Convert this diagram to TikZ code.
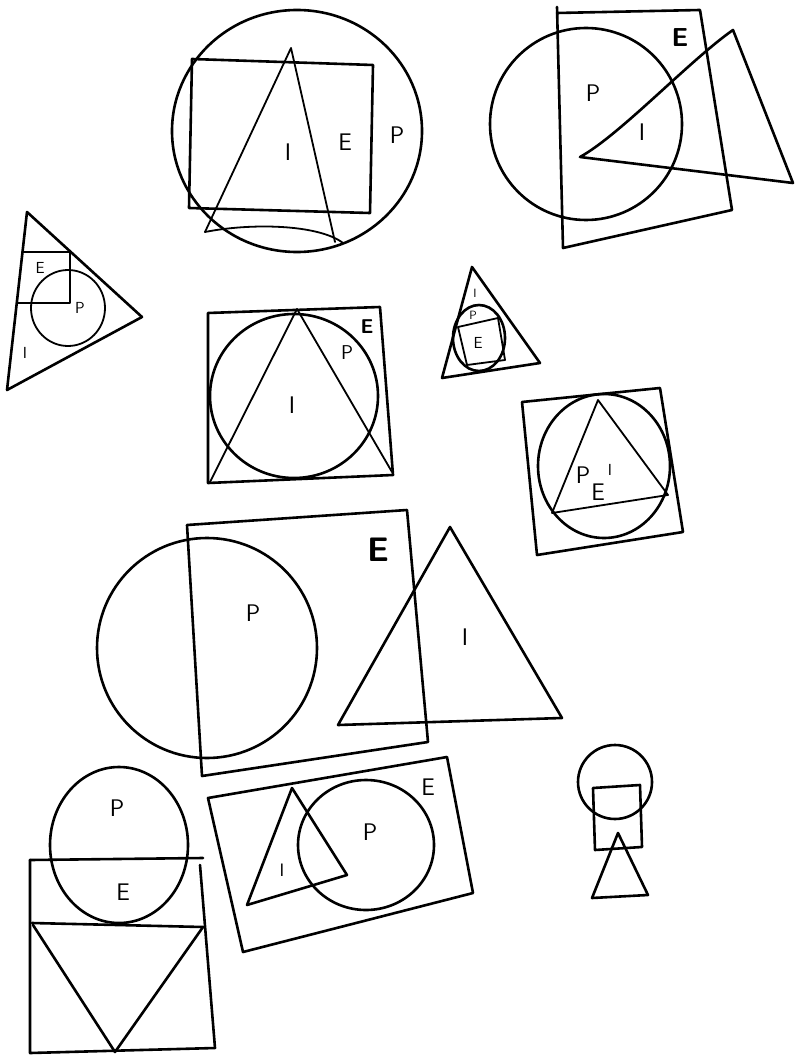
\documentclass[tikz,border=0pt]{standalone}
\usepackage{fontspec}
\usepackage{tikz}

\begin{document}
\begin{tikzpicture}[x=1pt,y=1pt,yscale=-1,xscale=1,
  sk/.style={line width=2.6pt, line join=round, line cap=round},
  thinsk/.style={line width=1.8pt, line join=round, line cap=round},
  lbl/.style={inner sep=0.75pt, font=\fontsize{24}{24}\selectfont\sffamily},
  biglbl/.style={inner sep=0.75pt, font=\fontsize{34}{34}\selectfont\sffamily\bfseries},
  smalllbl/.style={inner sep=0.5pt, font=\fontsize{12}{12}\selectfont\sffamily}]
\useasboundingbox (0,0) rectangle (801,1056);

%Shape: Circle, top middle
\draw [sk] (297,131) ellipse [x radius=125, y radius=121];
%Shape: Square
\draw [sk] (192,59) -- (373,65) -- (370,213) -- (189,208) -- cycle;
%Shape: Triangle
\draw [thinsk] (205,232) -- (291,48) -- (335,242);
\draw [thinsk] (205,232) .. controls (250,223) and (318,224) .. (343,243);
% Text Node
\draw (288,152) node [lbl] (i1) {I};
\draw (345,142) node [lbl] (e1) {E};
\draw (397,135) node [lbl] (p1) {P};

%Shape: Rectangle, top right
\draw [sk] (557,7) -- (563,248) -- (732,210) -- (700,10) -- (557,13);
%Shape: Circle
\draw [sk] (586,124) ellipse [x radius=96, y radius=96];
%Shape: Triangle
\draw [sk] (580,157) .. controls (620,135) and (690,60) .. (733,30) -- (793,183) -- cycle;
% Text Node
\draw (680,38) node [biglbl,font=\fontsize{26}{26}\selectfont\sffamily\bfseries] (e2) {E};
\draw (593,93) node [lbl] (p2) {P};
\draw (642,132) node [lbl] (i2) {I};

%Shape: Triangle, left
\draw [sk] (27,212) -- (142,317) -- (7,390) -- cycle;
%Shape: Square
\draw [thinsk] (22,252) -- (70,252) -- (70,303) -- (17,303);
%Shape: Circle
\draw [thinsk] (68,308) ellipse [x radius=37, y radius=38];
% Text Node
\draw (40,268) node [smalllbl,font=\fontsize{16}{16}\selectfont\sffamily] (e3) {E};
\draw (80,308) node [smalllbl,font=\fontsize{16}{16}\selectfont\sffamily] (p3) {P};
\draw (25,353) node [smalllbl,font=\fontsize{16}{16}\selectfont\sffamily] (i3) {I};

%Shape: Triangle, small
\draw [sk] (472,267) -- (540,363) -- (442,378) -- cycle;
%Shape: Circle
\draw [sk] (479,338) ellipse [x radius=26, y radius=33];
%Shape: Square
\draw [thinsk] (458,327) -- (498,318) -- (505,360) -- (467,365) -- cycle;
% Text Node
\draw (475,293) node [smalllbl] (i4) {I};
\draw (473,315) node [smalllbl] (p4) {P};
\draw (478,343) node [smalllbl,font=\fontsize{16}{16}\selectfont\sffamily] (e4) {E};

%Shape: Square, middle right
\draw [sk] (522,402) -- (660,388) -- (683,532) -- (537,555) -- cycle;
%Shape: Circle
\draw [sk] (604,466) ellipse [x radius=66, y radius=72];
%Shape: Triangle
\draw [thinsk] (598,400) -- (668,495) -- (552,513) -- cycle;
% Text Node
\draw (583,475) node [lbl] (p5) {P};
\draw (598,492) node [lbl] (e5) {E};
\draw (610,470) node [smalllbl,font=\fontsize{16}{16}\selectfont\sffamily] (i5) {I};

%Shape: Square, middle
\draw [sk] (208,313) -- (380,307) -- (393,475) -- (208,483) -- cycle;
%Shape: Circle
\draw [sk] (294,396) ellipse [x radius=84, y radius=82];
%Shape: Triangle
\draw [thinsk] (297,309) -- (392,472);
\draw [thinsk] (297,309) -- (210,482);
% Text Node
\draw (292,405) node [lbl] (i6) {I};
\draw (347,353) node [lbl,font=\fontsize{20}{20}\selectfont\sffamily] (p6) {P};
\draw (367,327) node [lbl,font=\fontsize{20}{20}\selectfont\sffamily\bfseries] (e6) {E};

%Shape: Rectangle, big
\draw [sk] (187,525) -- (407,510) -- (428,742) -- (202,776) -- cycle;
%Shape: Circle
\draw [sk] (207,648) ellipse [x radius=110, y radius=110];
%Shape: Triangle
\draw [sk] (450,527) -- (562,718) -- (338,725) -- cycle;
% Text Node
\draw (378,550) node [biglbl] (e7) {E};
\draw (253,613) node [lbl] (p7) {P};
\draw (465,637) node [lbl] (i7) {I};

%Shape: Circle, bottom left
\draw [sk] (119,845) ellipse [x radius=69, y radius=78];
%Shape: Rectangle
\draw [sk] (30,860) -- (203,858);
\draw [sk] (30,860) -- (30,1053) -- (215,1048) -- (200,865);
\draw [sk] (32,923) -- (203,927);
%Shape: Triangle
\draw [sk] (33,925) -- (115,1052) -- (203,927);
% Text Node
\draw (117,808) node [lbl] (p8) {P};
\draw (123,892) node [lbl] (e8) {E};

%Shape: Rectangle, bottom middle
\draw [sk] (208,798) -- (447,757) -- (473,893) -- (243,952) -- cycle;
%Shape: Triangle
\draw [sk] (292,788) -- (347,875) -- (247,905) -- cycle;
%Shape: Circle
\draw [sk] (366,845) ellipse [x radius=68, y radius=65];
% Text Node
\draw (428,787) node [lbl] (e9) {E};
\draw (370,832) node [lbl] (p9) {P};
\draw (282,870) node [lbl,font=\fontsize{18}{18}\selectfont\sffamily] (i9) {I};

%Shape: Circle, figure
\draw [sk] (615,782) ellipse [x radius=37, y radius=37];
%Shape: Square
\draw [sk] (593,788) -- (640,785) -- (642,847) -- (595,850) -- cycle;
%Shape: Triangle
\draw [sk] (618,833) -- (648,895) -- (592,898) -- cycle;

\end{tikzpicture}
\end{document}
